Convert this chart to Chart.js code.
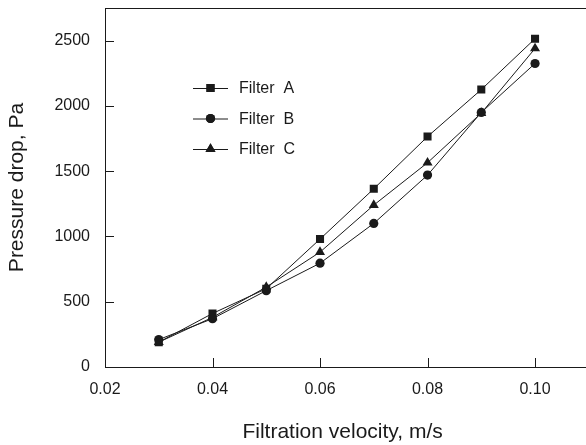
<!DOCTYPE html>
<html>
<head>
<meta charset="utf-8">
<script src="https://cdn.jsdelivr.net/npm/chart.js@4"></script>
<style>
  html, body { margin: 0; padding: 0; background: #fff; }
  #wrap { width: 586px; height: 445px; }
</style>
</head>
<body>
<div id="wrap"><canvas id="chart"></canvas></div>
<script>
// filtration velocity (m/s)
const velocity = [0.03, 0.04, 0.05, 0.06, 0.07, 0.08, 0.09, 0.10];
// pressure drop (Pa)
const filterA = [190, 410, 600, 980, 1365, 1765, 2125, 2515];
const filterB = [210, 370, 585, 795, 1100, 1470, 1950, 2325];
const filterC = [190, 380, 612, 880, 1240, 1565, 1945, 2440];
const xTicks = [0.02, 0.04, 0.06, 0.08, 0.10];
const yTicks = [0, 500, 1000, 1500, 2000, 2500];

const FONT = 'Liberation Sans, Arial, sans-serif';
const INK = '#1a1a1a';

function pts(ys) {
    return velocity.map((v, i) => ({ x: v, y: ys[i] }));
}

function series(label, ys, style, radius) {
    return {
        label: label,
        data: pts(ys),
        borderColor: INK,
        borderWidth: 1,
        backgroundColor: INK,
        pointStyle: style,
        pointRadius: radius,
        pointBorderWidth: 0,
        pointBackgroundColor: INK,
        tension: 0
    };
}

// inward tick marks, top frame line and the in-plot legend
const frame = {
    id: 'frame',
    afterDraw(chart) {
        const { ctx, chartArea: a, scales: { x, y } } = chart;
        ctx.save();
        ctx.strokeStyle = INK;
        ctx.lineWidth = 1;
        ctx.beginPath();
        ctx.moveTo(a.left, a.top + 0.5);
        ctx.lineTo(chart.width, a.top + 0.5);
        xTicks.forEach(v => {
            const px = Math.round(x.getPixelForValue(v)) + 0.5;
            ctx.moveTo(px, a.bottom);
            ctx.lineTo(px, a.bottom - 9);
        });
        yTicks.forEach(v => {
            const py = Math.round(y.getPixelForValue(v)) + 0.5;
            ctx.moveTo(a.left, py);
            ctx.lineTo(a.left + 9, py);
        });
        ctx.moveTo(a.right, a.bottom + 0.5);
        ctx.lineTo(chart.width, a.bottom + 0.5);
        ctx.stroke();

        // legend
        ctx.font = '16px ' + FONT;
        ctx.textBaseline = 'middle';
        chart.data.datasets.forEach((ds, i) => {
            const ly = 88 + i * 30.5;
            ctx.strokeStyle = INK;
            ctx.beginPath();
            ctx.moveTo(193, ly + 0.5);
            ctx.lineTo(228, ly + 0.5);
            ctx.stroke();
            Chart.helpers.drawPoint(ctx, {
                pointStyle: ds.pointStyle,
                radius: ds.pointRadius,
                borderWidth: 0
            }, 210.5, ly);
            ctx.fillStyle = INK;
            ctx.fill();
            ctx.fillText(ds.label, 239, ly + 1);
        });
        ctx.restore();
    }
};

new Chart(document.getElementById('chart'), {
    type: 'line',
    data: {
        datasets: [
            series('Filter  A', filterA, 'rect', 5.7),
            series('Filter  B', filterB, 'circle', 4.6),
            series('Filter  C', filterC, 'triangle', 5.8)
        ]
    },
    options: {
        responsive: true,
        maintainAspectRatio: false,
        animation: false,
        layout: { padding: { top: 8, right: 0, left: 0, bottom: 0 } },
        plugins: {
            legend: { display: false },
            tooltip: { enabled: false }
        },
        scales: {
            x: {
                type: 'linear',
                min: 0.02,
                max: 0.1084,
                afterBuildTicks: s => { s.ticks = xTicks.map(v => ({ value: v })); },
                afterFit: s => { s.height = 78; s.paddingLeft = 0; s.paddingRight = 0; },
                grid: { display: false, drawTicks: false },
                border: { display: true, color: INK, width: 1 },
                ticks: {
                    color: INK,
                    padding: 13,
                    font: { family: FONT, size: 16 },
                    callback: v => v.toFixed(2)
                },
                title: {
                    display: true,
                    text: 'Filtration velocity, m/s',
                    color: INK,
                    font: { family: FONT, size: 21 },
                    padding: { top: 10, bottom: 0 }
                }
            },
            y: {
                min: 0,
                max: 2750,
                afterBuildTicks: s => { s.ticks = yTicks.map(v => ({ value: v })); },
                afterFit: s => { s.width = 105; s.paddingTop = 0; s.paddingBottom = 0; },
                grid: { display: false, drawTicks: false },
                border: { display: true, color: INK, width: 1 },
                ticks: {
                    color: INK,
                    padding: 15,
                    font: { family: FONT, size: 16 },
                    callback: v => String(v)
                },
                title: {
                    display: true,
                    text: 'Pressure drop, Pa',
                    color: INK,
                    font: { family: FONT, size: 21 },
                    padding: { top: 5, bottom: 0 }
                }
            }
        }
    },
    plugins: [frame]
});
</script>
</body>
</html>
